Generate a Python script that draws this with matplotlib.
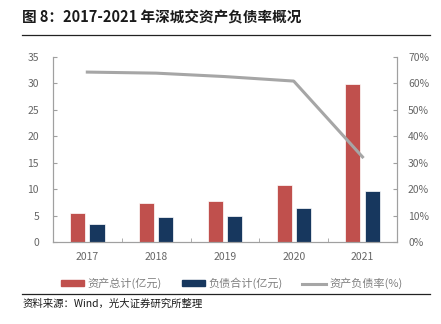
import matplotlib
matplotlib.use("Agg")
import matplotlib.pyplot as plt
import numpy as np
from matplotlib.lines import Line2D
from matplotlib.patches import Patch

plt.rcParams['font.family'] = ['Noto Sans CJK SC', 'DejaVu Sans']

years = ['2017', '2018', '2019', '2020', '2021']
assets = [5.5, 7.4, 7.8, 10.8, 29.9]      # 资产总计(亿元)
debts = [3.4, 4.7, 4.9, 6.4, 9.7]         # 负债合计(亿元)
ratio = [64.3, 63.9, 62.6, 60.9, 32.2]    # 资产负债率(%)

red = '#C0504D'
navy = '#17375E'
grey = '#A6A6A6'
tick_c = '#666666'

fig = plt.figure(figsize=(4.41, 3.24), dpi=100)
ax = fig.add_axes([0.120, 0.253, 0.780, 0.571])
ax2 = ax.twinx()

x = np.arange(len(years))
w = 0.22
ax.bar(x - 0.14, assets, w, color=red, edgecolor='white', linewidth=0.5, zorder=2)
ax.bar(x + 0.14, debts, w, color=navy, edgecolor='white', linewidth=0.5, zorder=2)
ax2.plot(x, ratio, color=grey, lw=2.2, zorder=3)

ax.set_xlim(-0.5, 4.5)
ax.set_ylim(0, 35)
ax.set_yticks(range(0, 36, 5))
ax2.set_ylim(0, 70)
ax2.set_yticks(range(0, 71, 10))
ax2.set_yticklabels([f'{v}%' for v in range(0, 71, 10)])

ax.set_xticks(x)
ax.set_xticklabels(years)
ax.set_xticks(np.arange(-0.5, 5, 1), minor=True)
ax.tick_params(axis='x', which='major', length=0, pad=7)
ax.tick_params(axis='x', which='minor', length=3, direction='in', color='#A0A0A0')

for a in (ax, ax2):
    a.spines['top'].set_visible(False)
    for s in ('left', 'right', 'bottom'):
        a.spines[s].set_color('#A0A0A0')
        a.spines[s].set_linewidth(0.8)
    a.tick_params(labelsize=7.5, labelcolor=tick_c, color='#A0A0A0')
ax.tick_params(axis='y', direction='in', length=3, pad=10)
ax2.tick_params(axis='y', direction='in', length=3, pad=8)

handles = [Patch(color=red), Patch(color=navy), Line2D([], [], color=grey, lw=2.2)]
labels = ['资产总计(亿元)', '负债合计(亿元)', '资产负债率(%)']
leg = fig.legend(handles, labels, loc='center', bbox_to_anchor=(0.525, 0.125), ncol=3,
                 frameon=False, fontsize=8, handlelength=2.1, handleheight=0.5,
                 handletextpad=0.3, columnspacing=1.8)
for t in leg.get_texts():
    t.set_color('#808080')

fig.text(0.05, 0.945, '图 8：2017-2021 年深城交资产负债率概况', fontsize=10.5,
         fontweight='bold', va='center', ha='left', color='#1a1a1a')
fig.add_artist(Line2D([0.05, 0.975], [0.893, 0.893], color='#222222', lw=0.9))
fig.add_artist(Line2D([0.05, 0.975], [0.092, 0.092], color='#222222', lw=0.9))
fig.text(0.05, 0.063, '资料来源：Wind，光大证券研究所整理', fontsize=7.5,
         va='center', ha='left', color='#1a1a1a')

fig.savefig('out.png', dpi=100)
